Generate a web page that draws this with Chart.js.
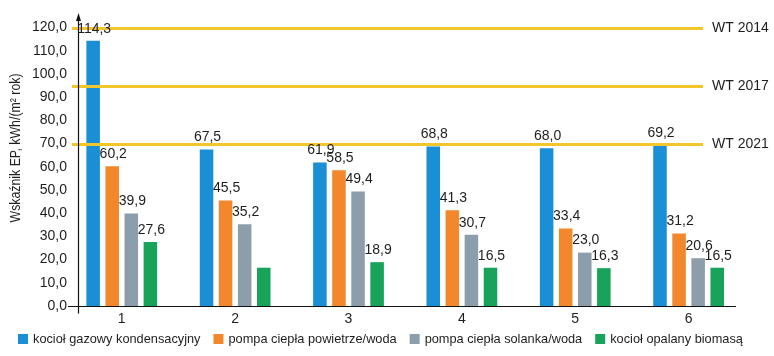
<!DOCTYPE html>
<html><head><meta charset="utf-8">
<script src="https://cdn.jsdelivr.net/npm/chart.js@4.4.1/dist/chart.umd.min.js"></script>
<style>html,body{margin:0;padding:0;background:#fff}#wrap{width:774px;height:356px}</style>
</head><body><div id="wrap"><canvas id="c" width="774" height="356"></canvas></div>
<script>
// ---- data ----
const categories = [1, 2, 3, 4, 5, 6];
const seriesNames = ['kocioł gazowy kondensacyjny', 'pompa ciepła powietrze/woda', 'pompa ciepła solanka/woda', 'kocioł opalany biomasą'];
const gasBoiler = [114.3, 67.5, 61.9, 68.8, 68.0, 69.2];
const airPump = [60.2, 45.5, 58.5, 41.3, 33.4, 31.2];
const groundPump = [39.9, 35.2, 49.4, 30.7, 23.0, 20.6];
const biomass = [27.6, 16.5, 18.9, 16.5, 16.3, 16.5];
const biomassLabelShown = [true, false, true, true, true, true];
const limitValues = [120, 95, 70];
const limitLabels = ['WT 2014', 'WT 2017', 'WT 2021'];
const yTickValues = [0, 10, 20, 30, 40, 50, 60, 70, 80, 90, 100, 110, 120];
const yTitle = 'Wskaźnik EP, kWh/(m² rok)';

// ---- styles ----
const FONT = '"Liberation Sans", Arial, sans-serif';
const TEXT = '#1e1e1e';
const colors = ['#1a8fd6', '#f3872b', '#8c9eab', '#17a35a'];
const YELLOW = '#f2c72c';
const fmt = v => v.toFixed(1).replace('.', ',');

const seriesValues = [gasBoiler, airPump, groundPump, biomass];
const labelShown = [null, null, null, biomassLabelShown];

const datasets = seriesValues.map((vals, i) => ({
  label: seriesNames[i],
  data: categories.map((c, j) => ({ x: c, y: vals[j] })),
  backgroundColor: colors[i],
  borderWidth: 0,
  categoryPercentage: 0.673,
  barPercentage: 0.71
}));

const noPad = s => { s.paddingTop = 0; s.paddingBottom = 0; s.paddingLeft = 0; s.paddingRight = 0; };

const decor = {
  id: 'decor',
  afterDatasetsDraw(chart) {
    const { ctx, chartArea: ca, scales: { x, y } } = chart;
    ctx.save();
    // limit lines
    ctx.strokeStyle = YELLOW;
    ctx.lineWidth = 3;
    ctx.font = '14px ' + FONT;
    ctx.textBaseline = 'middle';
    ctx.textAlign = 'left';
    limitValues.forEach((v, i) => {
      const py = Math.round(y.getPixelForValue(v)) + 0.5;
      ctx.beginPath();
      ctx.moveTo(ca.left - 6, py);
      ctx.lineTo(ca.right - 33, py);
      ctx.stroke();
      ctx.fillStyle = TEXT;
      ctx.fillText(limitLabels[i], ca.right - 24, py);
    });
    // axes
    ctx.strokeStyle = '#111';
    ctx.lineWidth = 1.2;
    const ox = Math.round(ca.left) + 0.5;
    const oy = Math.round(y.getPixelForValue(0)) + 0.5;
    ctx.beginPath();
    ctx.moveTo(ca.left - 10, oy);
    ctx.lineTo(ca.right, oy);
    ctx.moveTo(ox, oy + 7);
    ctx.lineTo(ox, ca.top + 2);
    ctx.stroke();
    ctx.fillStyle = '#111';
    ctx.beginPath();
    ctx.moveTo(ox, ca.top - 3);
    ctx.lineTo(ox - 2.5, ca.top + 5);
    ctx.lineTo(ox + 2.5, ca.top + 5);
    ctx.closePath();
    ctx.fill();
    // value labels
    ctx.font = '14px ' + FONT;
    ctx.textAlign = 'center';
    ctx.textBaseline = 'bottom';
    ctx.fillStyle = TEXT;
    chart.data.datasets.forEach((ds, i) => {
      const meta = chart.getDatasetMeta(i);
      meta.data.forEach((el, j) => {
        if (labelShown[i] && !labelShown[i][j]) return;
        ctx.fillText(fmt(seriesValues[i][j]), el.x + 1, el.y - 5);
      });
    });
    // y title
    ctx.save();
    ctx.translate(16, 148);
    ctx.rotate(-Math.PI / 2);
    ctx.scale(0.88, 1);
    ctx.font = '14px ' + FONT;
    ctx.textAlign = 'center';
    ctx.textBaseline = 'middle';
    ctx.fillText(yTitle, 0, 0);
    ctx.restore();
    // legend
    ctx.font = '13px ' + FONT;
    ctx.textAlign = 'left';
    ctx.textBaseline = 'middle';
    const squeeze = 0.982;
    let lx = 18;
    const ly = 339;
    seriesNames.forEach((name, i) => {
      ctx.fillStyle = colors[i];
      ctx.fillRect(lx, ly - 5, 10, 10);
      ctx.fillStyle = TEXT;
      ctx.save();
      ctx.translate(lx + 15, ly);
      ctx.scale(squeeze, 1);
      ctx.fillText(name, 0, 0);
      ctx.restore();
      lx += 15 + ctx.measureText(name).width * squeeze + 13;
    });
    ctx.restore();
  }
};

new Chart(document.getElementById('c'), {
  type: 'bar',
  data: { datasets },
  options: {
    responsive: false,
    animation: false,
    devicePixelRatio: 1,
    layout: { padding: { left: 0, right: 38, top: 16, bottom: 0 } },
    plugins: { legend: { display: false }, tooltip: { enabled: false } },
    scales: {
      x: {
        type: 'linear',
        offset: false,
        min: 0.614,
        max: 6.418,
        grid: { display: false, drawTicks: false, offset: false },
        border: { display: false },
        afterBuildTicks: s => { s.ticks = categories.map(v => ({ value: v })); },
        afterFit: s => { s.height = 50; noPad(s); },
        ticks: { color: TEXT, font: { family: FONT, size: 14 }, padding: 5, callback: v => String(v), maxRotation: 0, autoSkip: false }
      },
      y: {
        min: 0,
        max: 125,
        grid: { display: false, drawTicks: false },
        border: { display: false },
        afterBuildTicks: s => { s.ticks = yTickValues.map(v => ({ value: v })); },
        afterFit: s => { s.width = 78; noPad(s); },
        ticks: { color: TEXT, font: { family: FONT, size: 14 }, padding: 11, callback: v => fmt(v) }
      }
    }
  },
  plugins: [decor]
});
</script>
</body></html>
